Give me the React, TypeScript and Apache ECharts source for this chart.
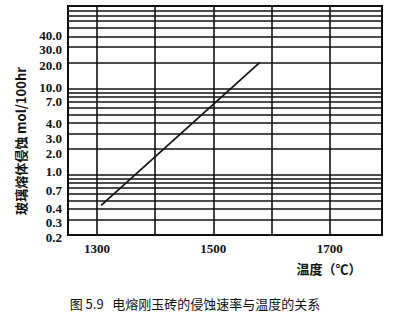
import React, { useEffect, useRef } from "react";
import * as echarts from "echarts";

// Data
const temps = [1307, 1580];
const rates = [0.44, 20];

const yGridValues = [
  0.2, 0.3, 0.4, 0.5, 0.6, 0.7, 0.8, 0.9,
  1, 2, 3, 4, 5, 6, 7, 8, 9,
  10, 20, 30, 40, 50, 60, 70, 80, 90,
];
const yLabelValues = [0.2, 0.3, 0.4, 0.7, 1, 2, 3, 4, 7, 10, 20, 30, 40];
const xGridValues = [1300, 1400, 1500, 1600, 1700];
const xLabelValues = [1300, 1500, 1700];

const yTitle = "玻璃熔体侵蚀 mol/100hr";
const xTitle = "温度（℃）";
const caption = "图 5.9   电熔刚玉砖的侵蚀速率与温度的关系";

// Styling: small vertical nudges of the tick labels, as printed in the reference
const yLabelNudge: Record<string, number> = {
  "40": -1, "30": 2, "20": 3, "10": -1, "7": 0, "4": 1, "3": 5,
  "2": 5, "1": -3, "0.7": 2, "0.4": -1, "0.3": 3, "0.2": 2,
};

const numFont = "'Liberation Serif', 'DejaVu Serif', serif";
const cjkFont = "'Noto Sans CJK SC', sans-serif";

export default function App() {
  const ref = useRef<HTMLDivElement>(null);

  useEffect(() => {
    if (!ref.current) return;
    const chart = echarts.init(ref.current, undefined, { renderer: "svg" });

    const lineStyle = { color: "#121212", width: 1.6, type: "solid" as const };

    const markData: any[] = [];
    yGridValues.forEach((v) => {
      const labelled = yLabelValues.indexOf(v) >= 0;
      markData.push({
        yAxis: v,
        lineStyle,
        label: labelled
          ? {
              show: true,
              position: "start",
              distance: 6,
              offset: [0, yLabelNudge[String(v)] || 0],
              formatter: v.toFixed(1),
              color: "#111",
              fontFamily: numFont,
              fontWeight: "bold",
              fontSize: 13,
              lineHeight: 12,
            }
          : { show: false },
      });
    });
    xGridValues.forEach((v) => {
      markData.push({ xAxis: v, lineStyle, label: { show: false } });
    });

    chart.setOption({
      animation: false,
      backgroundColor: "#ffffff",
      grid: {
        left: 68,
        right: 18,
        top: 6,
        bottom: 81,
        containLabel: false,
        outerBoundsMode: "none",
        show: true,
        borderColor: "#111",
        borderWidth: 2,
        backgroundColor: "transparent",
      },
      xAxis: {
        type: "value",
        min: 1250,
        max: 1790,
        interval: 50,
        axisLine: { show: false },
        axisTick: { show: false },
        splitLine: { show: false },
        axisLabel: {
          margin: 7,
          color: "#111",
          fontFamily: numFont,
          fontWeight: "bold",
          fontSize: 13,
          formatter: (v: number) => (xLabelValues.indexOf(v) >= 0 ? String(v) : ""),
        },
      },
      yAxis: {
        type: "log",
        logBase: 10,
        min: 0.2,
        max: 90,
        axisLine: { show: false },
        axisTick: { show: false },
        splitLine: { show: false },
        minorSplitLine: { show: false },
        axisLabel: { show: false },
      },
      series: [
        {
          type: "line",
          data: temps.map((t, i) => [t, rates[i]]),
          symbol: "none",
          lineStyle: { color: "#111", width: 1.7 },
          markLine: {
            silent: true,
            symbol: ["none", "none"],
            animation: false,
            data: markData,
          },
        },
      ],
      graphic: [
        {
          type: "text",
          x: 20,
          y: 141,
          rotation: Math.PI / 2,
          style: {
            text: yTitle,
            fill: "#111",
            font: `bold 13px ${cjkFont}`,
            textAlign: "center",
            textVerticalAlign: "middle",
          },
        },
        {
          type: "text",
          x: 329,
          y: 268,
          style: {
            text: xTitle,
            fill: "#111",
            font: `bold 13px ${cjkFont}`,
            textAlign: "center",
            textVerticalAlign: "middle",
          },
        },
        {
          type: "text",
          x: 195,
          y: 303,
          style: {
            text: caption,
            fill: "#111",
            font: `13px ${cjkFont}`,
            textAlign: "center",
            textVerticalAlign: "middle",
          },
        },
      ],
    });

    return () => chart.dispose();
  }, []);

  return (
    <div
      ref={ref}
      style={{ position: "fixed", left: 0, top: 0, width: 400, height: 316, background: "#fff" }}
    />
  );
}
